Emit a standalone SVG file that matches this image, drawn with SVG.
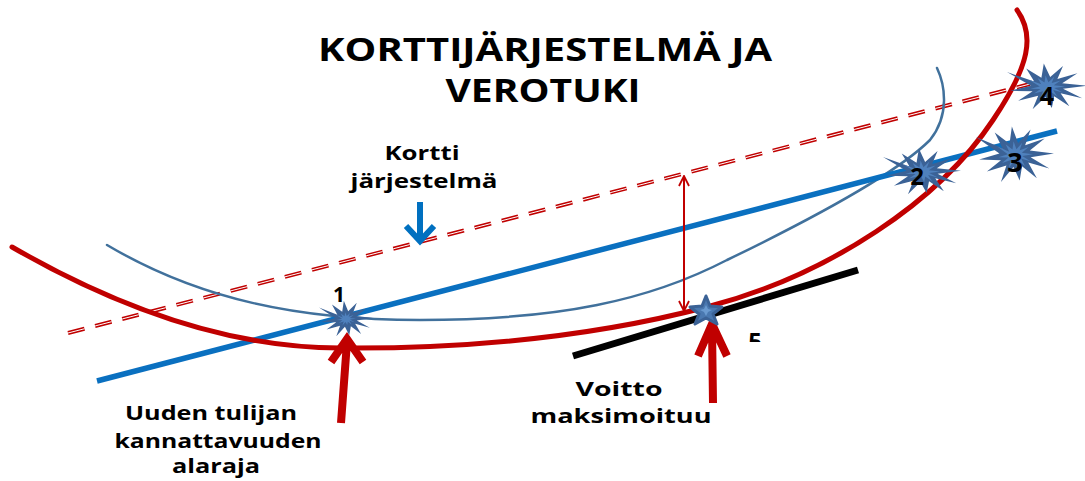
<svg xmlns="http://www.w3.org/2000/svg" width="1085" height="481" viewBox="0 0 1085 481">
<style>
.t{font-family:"Open Sans","Liberation Sans",sans-serif;font-weight:700;fill:#000}
.red{fill:none;stroke:#c00000;stroke-width:5;stroke-linecap:round}
.thin{fill:none;stroke:#41719c;stroke-width:2.5;stroke-linecap:round}
.blue{fill:none;stroke:#0a70c0;stroke-width:5.5}
.boom{fill:#3b6296}
.boomc{fill:#4f81bd}
.bigarrow{fill:none;stroke:#c00000;stroke-width:8;stroke-linejoin:miter}
</style>
<defs>
<polygon id="ex" points="50,-2 19,-6 38,-22 13,-13 20,-34 4,-16 -4,-38 -7,-15 -26,-30 -16,-9 -50,-24 -20,-2 -46,6 -18,7 -36,22 -11,14 -18,36 -2,16 6,34 9,15 28,31 17,10 44,18 20,3"/>
<marker id="vh" viewBox="0 0 12 12" refX="11" refY="6" markerWidth="12" markerHeight="12" markerUnits="userSpaceOnUse" orient="auto-start-reverse">
<path d="M1,1 L11,6 L1,11" fill="none" stroke="#c00000" stroke-width="1.8"/>
</marker>
<clipPath id="c5"><rect x="740" y="320" width="30" height="22"/></clipPath>
</defs>
<rect width="1085" height="481" fill="#fff"/>
<g id="connectors">
<line x1="68" y1="333" x2="1030" y2="84" stroke="#c00000" stroke-width="4" stroke-dasharray="17,11"/>
<line x1="68" y1="333" x2="1030" y2="84" stroke="#fff" stroke-width="1" stroke-dasharray="17,11"/>
<path class="thin" d="M107,245 C200,300 300,320 420,320 C560,320 650,300 727,260 C820,215 900,170 930,140 C950,115 945,85 937,68"/>
<line class="blue" x1="97" y1="381" x2="1057" y2="131"/>
<path class="red" d="M12,247 C130,315 240,348 340,348 C480,349 600,335 707,307 C830,275 940,200 993,120 C1030,65 1035,35 1017,10"/>
<line x1="573" y1="356" x2="858" y2="270" stroke="#000" stroke-width="7"/>
<line x1="684" y1="176" x2="684" y2="311" stroke="#c00000" stroke-width="2" marker-start="url(#vh)" marker-end="url(#vh)"/>
<path class="bigarrow" d="M341,423 L347,342 M331,362 L347,339 L363,362"/>
<path class="bigarrow" d="M713,403 L712,327 M698,356 L712,324 L727,356"/>
<path d="M420,202 L420,238 M406,226 L420,241 L434,226" fill="none" stroke="#0070c0" stroke-width="6"/>
</g>
<g id="title">
<text class="t" x="545" y="61" font-size="33" text-anchor="middle" textLength="454" lengthAdjust="spacingAndGlyphs">KORTTIJÄRJESTELMÄ JA</text>
<text class="t" x="543" y="102" font-size="33" text-anchor="middle" textLength="195" lengthAdjust="spacingAndGlyphs">VEROTUKI</text>
</g>
<g id="label-kortti">
<text class="t" x="422" y="160" font-size="20" text-anchor="middle" textLength="75" lengthAdjust="spacingAndGlyphs">Kortti</text>
<text class="t" x="424" y="188" font-size="20" text-anchor="middle" textLength="147" lengthAdjust="spacingAndGlyphs">järjestelmä</text>
</g>
<g id="label-alaraja">
<text class="t" x="211" y="420" font-size="20" text-anchor="middle" textLength="172" lengthAdjust="spacingAndGlyphs">Uuden tulijan</text>
<text class="t" x="218" y="448" font-size="20" text-anchor="middle" textLength="207" lengthAdjust="spacingAndGlyphs">kannattavuuden</text>
<text class="t" x="216" y="473" font-size="20" text-anchor="middle" textLength="88" lengthAdjust="spacingAndGlyphs">alaraja</text>
</g>
<g id="label-voitto">
<text class="t" x="619" y="396" font-size="20" text-anchor="middle" textLength="87" lengthAdjust="spacingAndGlyphs">Voitto</text>
<text class="t" x="621" y="423" font-size="20" text-anchor="middle" textLength="181" lengthAdjust="spacingAndGlyphs">maksimoituu</text>
</g>
<g id="node-1">
<use href="#ex" class="boom" transform="translate(346,319) scale(0.54,0.48)"/>
<use href="#ex" class="boomc" transform="translate(346,319) scale(0.2,0.18)"/>
<text class="t" x="339" y="302" font-size="21" text-anchor="middle">1</text>
</g>
<g id="node-2">
<use href="#ex" class="boom" transform="translate(922,172) scale(0.78,0.62)"/>
<use href="#ex" class="boomc" transform="translate(922,172) scale(0.36,0.3)"/>
<text class="t" x="917" y="185" font-size="24" text-anchor="middle">2</text>
</g>
<g id="node-3">
<use href="#ex" class="boom" transform="translate(1015,155) scale(0.78,0.75)"/>
<use href="#ex" class="boomc" transform="translate(1015,155) scale(0.36,0.36)"/>
<text class="t" x="1015" y="172" font-size="27" text-anchor="middle">3</text>
</g>
<g id="node-4">
<use href="#ex" class="boom" transform="translate(1047,87) scale(0.8,0.62)"/>
<use href="#ex" class="boomc" transform="translate(1047,87) scale(0.36,0.3)"/>
<text class="t" x="1047" y="105" font-size="25" text-anchor="middle">4</text>
</g>
<g id="node-5">
<polygon points="706,296 710,306 722,307 713,314 717,324 706,318 695,324 699,314 690,307 702,306" fill="#4a78b0" stroke="#3b6296" stroke-width="3" stroke-linejoin="round"/>
<polygon points="706,305 708,309 712,310 708,312 706,316 704,312 700,310 704,309" fill="#6a9ad0"/>
<text class="t" x="755" y="350" font-size="24" text-anchor="middle" clip-path="url(#c5)">5</text>
</g>
</svg>
